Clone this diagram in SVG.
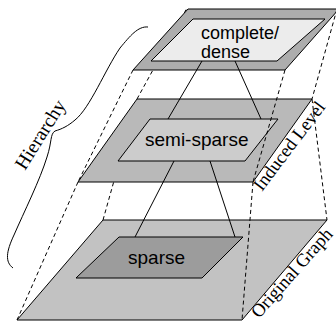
<svg xmlns="http://www.w3.org/2000/svg" width="336" height="327" viewBox="0 0 336 327">
<style>
.plane{stroke:#000;stroke-width:1;stroke-linejoin:miter}
.dash{fill:none;stroke:#000;stroke-width:1;stroke-dasharray:4 3}
.conn{fill:none;stroke:#000;stroke-width:1}
.lbl{font-family:"Liberation Sans",Arial,sans-serif;font-size:19px;fill:#000}
.ser{font-family:"Liberation Serif","Times New Roman",serif;font-size:18.5px;fill:#000}
</style>
<rect width="336" height="327" fill="#fff"/>
<g id="back-dashes">
<line class="dash" x1="103" y1="220" x2="137" y2="99"/>
<line class="dash" x1="137" y1="99" x2="187" y2="8"/>
</g>
<g id="original-graph">
<polygon class="plane" fill="#c2c2c2" points="103,220 327,220 242,320 17,320"/>
<polygon class="plane" fill="#9c9c9c" points="119,237 243,237 202,278 76,278"/>
<text class="lbl" x="128" y="264">sparse</text>
</g>
<g id="induced-level">
<polygon class="plane" fill="#b9b9b9" points="137,99 312,99 253,182 78,182"/>
<polygon class="plane" fill="#cccccc" points="150,119 278,119 245,161 118,161"/>
<text class="lbl" x="145" y="146">semi-sparse</text>
</g>
<g id="top-level">
<polygon class="plane" fill="#adadad" points="188,9 339,9 285,70 133,70"/>
<polygon class="plane" fill="#ececec" points="193,19 325,19 277,61 151,61"/>
<text class="lbl" x="201" y="39" style="font-size:18px">complete/</text>
<text class="lbl" x="201" y="58" style="font-size:18px">dense</text>
</g>
<g id="connectors">
<line class="conn" x1="202" y1="61" x2="168" y2="119"/>
<line class="conn" x1="235" y1="61" x2="261" y2="119"/>
<line class="conn" x1="174" y1="161" x2="135" y2="237"/>
<line class="conn" x1="210" y1="161" x2="235" y2="237"/>
<line class="dash" x1="133" y1="70" x2="78" y2="182"/>
<line class="dash" x1="285" y1="70" x2="253" y2="182"/>
<line class="dash" x1="337" y1="9" x2="312" y2="99"/>
<line class="dash" x1="78" y1="182" x2="17" y2="320"/>
<line class="dash" x1="312" y1="99" x2="327" y2="220"/>
<line class="dash" x1="253" y1="182" x2="242" y2="320"/>
</g>
<g id="hierarchy">
<path class="conn" d="M148,27 C138,26 130,36 120,48 C105,70 90,108 75,120 C68,126 62,129 55,131 C50,134 52,142 47,157 C40,180 24,212 14,235 C6,252 5,262 13,268"/>
<text class="ser" style="font-size:19.5px" transform="translate(25,171) rotate(-58)">Hierarchy</text>
</g>
<text class="ser" transform="translate(262,192) rotate(-53)">Induced Level</text>
<text class="ser" transform="translate(259,319) rotate(-48.5)">Original Graph</text>
</svg>
